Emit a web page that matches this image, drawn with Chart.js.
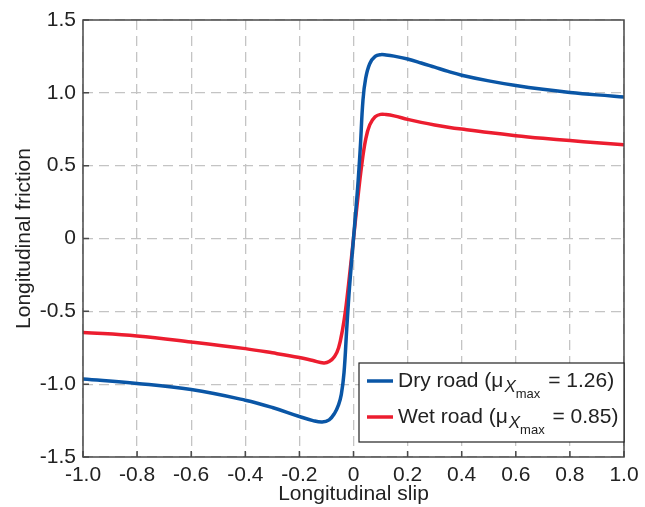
<!DOCTYPE html>
<html>
<head>
<meta charset="utf-8">
<script src="https://cdn.jsdelivr.net/npm/chart.js@4.4.1/dist/chart.umd.min.js"></script>
<style>
  html, body { margin: 0; padding: 0; background: #fff; }
  #wrap { width: 645px; height: 507px; position: relative; }
</style>
</head>
<body>
<div id="wrap"><canvas id="c" width="645" height="507"></canvas></div>
<script>
// values
const drySlip = [-1, -0.8, -0.6, -0.4, -0.3, -0.2, -0.15, -0.116, -0.09, -0.07, -0.055, -0.045, -0.035, -0.025, -0.015, 0,
  0.015, 0.025, 0.035, 0.045, 0.06, 0.08, 0.1, 0.12, 0.15, 0.2, 0.25, 0.3, 0.35, 0.4, 0.5, 0.6, 0.7, 0.8, 0.9, 1.0];
const dryFriction = [-0.965, -0.995, -1.037, -1.11, -1.16, -1.222, -1.25, -1.26, -1.245, -1.2, -1.14, -1.07, -0.92, -0.62, -0.34, 0,
  0.34, 0.62, 0.95, 1.1, 1.2, 1.25, 1.262, 1.26, 1.252, 1.232, 1.205, 1.176, 1.147, 1.121, 1.082, 1.05, 1.024, 1.003, 0.986, 0.972];

const wetSlip = [-1, -0.8, -0.6, -0.4, -0.3, -0.2, -0.15, -0.11, -0.09, -0.07, -0.055, -0.04, -0.03, -0.015, 0,
  0.015, 0.03, 0.045, 0.06, 0.08, 0.1, 0.12, 0.15, 0.2, 0.25, 0.3, 0.35, 0.4, 0.5, 0.6, 0.7, 0.8, 0.9, 1.0];
const wetFriction = [-0.645, -0.669, -0.71, -0.756, -0.785, -0.817, -0.838, -0.854, -0.845, -0.81, -0.75, -0.62, -0.5, -0.26, 0,
  0.26, 0.5, 0.68, 0.78, 0.835, 0.852, 0.851, 0.842, 0.818, 0.797, 0.779, 0.764, 0.751, 0.727, 0.706, 0.688, 0.672, 0.657, 0.644];

const seriesNames = ["Dry road", "Wet road"];
const seriesPeaks = ["1.26", "0.85"];
const seriesColors = ["#0a56a6", "#ec1d2f"];

const xTicks = [-1, -0.8, -0.6, -0.4, -0.2, 0, 0.2, 0.4, 0.6, 0.8, 1];
const yTicks = [-1.5, -1, -0.5, 0, 0.5, 1, 1.5];

const FONT = "'Liberation Sans', Arial, sans-serif";
const fmt = v => Math.abs(v) < 1e-9 ? "0" : v.toFixed(1);

function toPoints(xs, ys) { return xs.map((x, i) => ({ x: x, y: ys[i] })); }

// box, inward ticks and the legend with subscripts
const decor = {
  id: "decor",
  afterDraw(chart) {
    const ctx = chart.ctx, a = chart.chartArea;
    const sx = chart.scales.x, sy = chart.scales.y;
    ctx.save();
    ctx.strokeStyle = "#4a4a4a";
    ctx.lineWidth = 1.5;
    ctx.strokeRect(a.left, a.top, a.right - a.left, a.bottom - a.top);
    ctx.beginPath();
    xTicks.forEach(v => {
      const px = sx.getPixelForValue(v);
      ctx.moveTo(px, a.bottom); ctx.lineTo(px, a.bottom - 6);
    });
    yTicks.forEach(v => {
      const py = sy.getPixelForValue(v);
      ctx.moveTo(a.left, py); ctx.lineTo(a.left + 6, py);
    });
    ctx.stroke();

    // legend
    const bx = 359, by = 363, bw = a.right - 359, bh = 79;
    ctx.fillStyle = "#fff";
    ctx.fillRect(bx, by, bw, bh);
    ctx.strokeStyle = "#222";
    ctx.lineWidth = 1.2;
    ctx.strokeRect(bx, by, bw, bh);
    const rows = [381, 417];
    seriesNames.forEach((name, i) => {
      const y = rows[i];
      ctx.strokeStyle = seriesColors[i];
      ctx.lineWidth = 3.5;
      ctx.beginPath(); ctx.moveTo(367, y); ctx.lineTo(393, y); ctx.stroke();
      ctx.fillStyle = "#222";
      ctx.textBaseline = "middle";
      ctx.font = "21px " + FONT;
      let x = 398;
      const t1 = name + " (\u03bc";
      ctx.fillText(t1, x, y); x += ctx.measureText(t1).width + 1;
      ctx.font = "italic 17px " + FONT;
      ctx.fillText("X", x, y + 6); x += ctx.measureText("X").width;
      ctx.font = "13px " + FONT;
      ctx.fillText("max", x, y + 13); x += ctx.measureText("max").width + 2;
      ctx.font = "21px " + FONT;
      ctx.fillText(" = " + seriesPeaks[i] + ")", x, y);
    });
    ctx.restore();
  }
};

new Chart(document.getElementById("c"), {
  type: "line",
  data: {
    datasets: [
      { label: seriesNames[0], data: toPoints(drySlip, dryFriction), borderColor: seriesColors[0] },
      { label: seriesNames[1], data: toPoints(wetSlip, wetFriction), borderColor: seriesColors[1] }
    ]
  },
  options: {
    responsive: false,
    animation: false,
    layout: { padding: { top: 20, right: 21, left: 0, bottom: 0 } },
    elements: {
      line: { borderWidth: 3.5, tension: 0.4, fill: false, borderCapStyle: "round", borderJoinStyle: "round" },
      point: { radius: 0 }
    },
    plugins: { legend: { display: false }, tooltip: { enabled: false } },
    scales: {
      x: {
        type: "linear", min: -1, max: 1,
        afterBuildTicks: s => { s.ticks = xTicks.map(v => ({ value: v })); },
        afterFit: s => { s.height = 50; },
        ticks: { callback: fmt, color: "#222", font: { family: FONT, size: 21 }, padding: 6, maxRotation: 0 },
        grid: { color: "#c4c4c4", lineWidth: 1.3, drawTicks: false },
        border: { display: false, dash: [10, 6] },
        title: { display: true, text: "Longitudinal slip", color: "#222", font: { family: FONT, size: 21 }, padding: { top: 0, bottom: 0 } }
      },
      y: {
        type: "linear", min: -1.5, max: 1.5,
        afterBuildTicks: s => { s.ticks = yTicks.map(v => ({ value: v })); },
        afterFit: s => { s.width = 83; },
        ticks: { callback: fmt, color: "#222", font: { family: FONT, size: 21 }, padding: 7 },
        grid: { color: "#c4c4c4", lineWidth: 1.3, drawTicks: false },
        border: { display: false, dash: [10, 6] },
        title: { display: true, text: "Longitudinal friction", color: "#222", font: { family: FONT, size: 21 }, padding: { top: 12, bottom: 0 } }
      }
    }
  },
  plugins: [decor]
});
</script>
</body>
</html>
